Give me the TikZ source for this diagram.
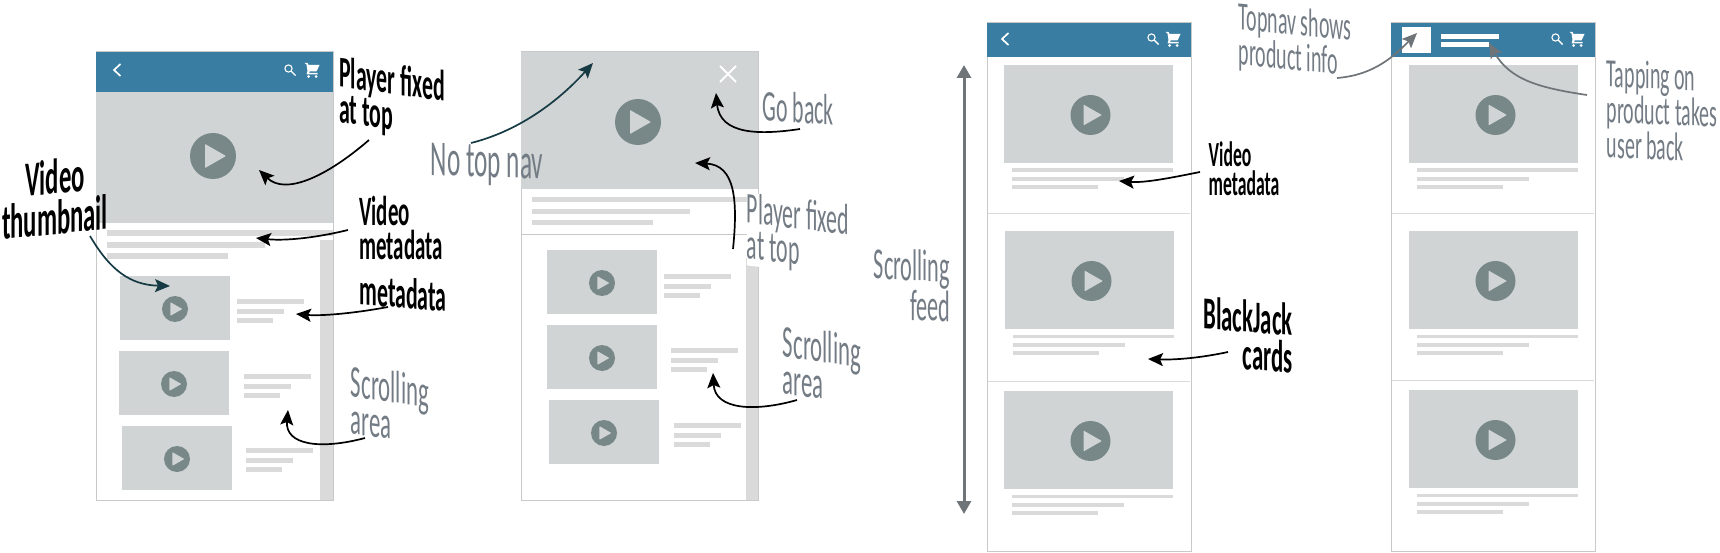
\documentclass[tikz,border=0pt]{standalone}
\usepackage{fontspec}
\usetikzlibrary{arrows.meta}
\newfontfamily\handfont{Carlito}
\definecolor{navblue}{HTML}{397DA3}
\definecolor{thumbgrey}{HTML}{D0D4D4}
\definecolor{linegrey}{HTML}{DADADA}
\definecolor{playgrey}{HTML}{788888}
\definecolor{edgegrey}{HTML}{C8CACA}
\definecolor{notegrey}{HTML}{737B84}
\definecolor{arrowgrey}{HTML}{6F7479}
\definecolor{darkteal}{HTML}{173B45}
\tikzset{
  hand/.style={transform shape, xscale=.5, inner sep=0pt, align=left,
    font=\handfont\fontsize{38}{31}\selectfont},
  inkhand/.style={hand, text=black, font=\handfont\bfseries\fontsize{38}{31}\selectfont},
  greyhand/.style={hand, text=notegrey},
  phone/.style={draw=edgegrey, line width=1pt, fill=white},
  note/.style={-{Stealth[length=15pt,width=13pt,inset=3pt]}, line width=1.7pt, black},
  tealnote/.style={note, darkteal},
  greynote/.style={note, arrowgrey},
}
% play button: x, y, radius
\newcommand{\playbtn}[3]{
  \fill[playgrey] (#1,#2) circle (#3);
  \fill[thumbgrey, rounded corners=.6pt, scale around={#3/23:(#1,#2)}]
    (#1-8,#2-12) -- (#1+13,#2) -- (#1-8,#2+12) -- cycle;
}
% small row: thumb x, y, text x, y
\newcommand{\minicard}[4]{
  \fill[thumbgrey] (#1,#2) rectangle ++(110,64);
  \playbtn{#1+55}{#2+33}{13}
  \fill[linegrey] (#3,#4) rectangle ++(67,4.5);
  \fill[linegrey] (#3,#4+10) rectangle ++(47,4.5);
  \fill[linegrey] (#3,#4+19) rectangle ++(36,4.5);
}
% big card: thumb x, y
\newcommand{\bigcard}[2]{
  \fill[thumbgrey] (#1,#2) rectangle ++(169,98);
  \playbtn{#1+86.5}{#2+50}{20}
  \fill[linegrey] (#1+8,#2+103.5) rectangle ++(161,3.8);
  \fill[linegrey] (#1+8,#2+112) rectangle ++(112,3.8);
  \fill[linegrey] (#1+8,#2+120) rectangle ++(86,3.8);
}
% search and cart: search x, cart x, y
\newcommand{\navicons}[3]{
  \draw[white, line width=1.1pt] (#1-1.5,#3-1.5) circle (3.6);
  \draw[white, line width=1.4pt] (#1+1,#3+1) -- (#1+5.5,#3+5.5);
  \fill[white] (#2-7.5,#3-7) -- (#2-4.5,#3-7) -- (#2-3.5,#3-5) -- (#2+7.5,#3-5)
    -- (#2+4.5,#3+1.5) -- (#2-2.5,#3+1.5) -- (#2-3,#3+3) -- (#2+5.5,#3+3)
    -- (#2+5.5,#3+4.5) -- (#2-5.5,#3+4.5) -- (#2-4.5,#3+1) -- (#2-5.5,#3-5.5) -- cycle;
  \fill[white] (#2-3.5,#3+6.5) circle (1.5) (#2+4,#3+6.5) circle (1.5);
}
\newcommand{\chevron}[2]{
  \draw[white, line width=1.7pt] (#1+3.5,#2-6) -- (#1-3,#2) -- (#1+3.5,#2+6);
}
\begin{document}
\begin{tikzpicture}[x=1pt, y=-1pt]
\useasboundingbox (0,0) rectangle (1720,553);

% first screen
\draw[phone] (96,52) rectangle (333,500);
\fill[navblue] (96,52) rectangle (333,92);
\fill[thumbgrey] (96,92) rectangle (333,223);
\chevron{117}{70}
\navicons{290}{312}{70}
\playbtn{213}{156}{23}
\fill[linegrey] (320,240) rectangle (333,500);
\fill[linegrey] (107,230.5) rectangle (333,236);
\fill[linegrey] (107,242.5) rectangle (265,248);
\fill[linegrey] (107,253.5) rectangle (228,259);
\minicard{120}{276}{237}{299}
\minicard{119}{351}{243.5}{374}
\minicard{122}{426}{246}{448}

% second screen
\draw[phone] (521,52) rectangle (758,500);
\fill[thumbgrey] (521,52) rectangle (758,189);
\playbtn{638}{122}{23}
\draw[white, line width=1.8pt] (720,66) -- (736,82) (736,66) -- (720,82);
\fill[linegrey] (746,258) rectangle (758,500);
\fill[linegrey] (532,197.5) rectangle (758,202.5);
\fill[linegrey] (532,209.5) rectangle (690,214.5);
\fill[linegrey] (532,220.5) rectangle (653,225.5);
\draw[edgegrey] (521,234) -- (758,234);
\minicard{547}{250}{664}{274}
\minicard{547}{325}{671}{348}
\minicard{549}{400}{674}{423}

% third screen
\draw[phone] (987,23) rectangle (1191,551);
\fill[navblue] (987,23) rectangle (1191,57);
\chevron{1005}{39}
\navicons{1153}{1173}{39}
\foreach \cardx/\cardy in {1004/65, 1005/231, 1004/391} {\bigcard{\cardx}{\cardy}}
\draw[linegrey] (988,213) -- (1190,213) (988,381) -- (1190,381);

% fourth screen
\draw[phone] (1391,23) rectangle (1595,551);
\fill[navblue] (1391,23) rectangle (1595,57);
\fill[white] (1402,27) rectangle (1431,53);
\fill[white] (1441,34) rectangle (1499,39);
\fill[white] (1441,42) rectangle (1489,47);
\navicons{1557}{1577}{39}
\foreach \cardx/\cardy in {1409/65, 1409/231, 1409/390} {\bigcard{\cardx}{\cardy}}
\draw[linegrey] (1392,213) -- (1594,213) (1392,380) -- (1594,380);

% labels
\node[yslant=-.14, inkhand, scale=1.15] (fixedA) at (392,100) {Player fixed\\at top};
\node[yslant=.1, inkhand, scale=1.3, align=center] (thumbA) at (55,197) {Video\\thumbnail};
\node[inkhand, scale=1.1] (metaA) at (401,228) {Video\\metadata};
\node[yslant=-.08, inkhand, scale=1.15] (rowmetaA) at (403,293) {metadata};
\node[yslant=-.14, greyhand, scale=1.2] (scrollA) at (390,405) {Scrolling\\area};
\node[yslant=-.03, greyhand, scale=1.33] (nonav) at (487,165) {No top nav};
\node[yslant=-.06, greyhand, scale=1.15] (goback) at (798,108) {Go back};
\node[yslant=-.12, greyhand, scale=1.15, fill=white] (fixedB) at (798,235) {Player fixed\\at top};
\node[yslant=-.14, greyhand, scale=1.2] (scrollB) at (822,365) {Scrolling\\area};
\node[yslant=-.04, greyhand, scale=1.17, align=right] (feed) at (912,285) {Scrolling\\feed};
\node[inkhand, scale=.93] (metaC) at (1244,169) {Video\\metadata};
\node[yslant=-.08, inkhand, scale=1.2, align=right] (jack) at (1248,335) {BlackJack\\cards};
\node[yslant=-.1, greyhand, scale=1.05] (topnav) at (1295,42) {Topnav shows\\product info};
\node[yslant=-.04, greyhand, scale=1.05] (tapping) at (1662,111) {Tapping on\\product takes\\user back};

% arrow ends
\coordinate (fixedAs) at (369,140);  \coordinate (fixedAt) at (259,170);
\coordinate (thumbAs) at (90,236);   \coordinate (thumbAt) at (170,286);
\coordinate (metaAs) at (348,230);   \coordinate (metaAt) at (256,238);
\coordinate (rowmetaAs) at (388,307); \coordinate (rowmetaAt) at (296,314);
\coordinate (scrollAs) at (365,438); \coordinate (scrollAt) at (288,410);
\coordinate (nonavs) at (471,143);   \coordinate (nonavt) at (593,63);
\coordinate (gobacks) at (800,129);  \coordinate (gobackt) at (716,93);
\coordinate (fixedBs) at (733,249);  \coordinate (fixedBt) at (695,163);
\coordinate (scrollBs) at (797,400); \coordinate (scrollBt) at (713,373);
\coordinate (feedtop) at (964,65);   \coordinate (feedbot) at (964,514);
\coordinate (metaCs) at (1200,172);  \coordinate (metaCt) at (1119,181);
\coordinate (jacks) at (1228,352);   \coordinate (jackt) at (1148,359);
\coordinate (topnavs) at (1337,78);  \coordinate (topnavt) at (1417,33);
\coordinate (tappings) at (1587,95); \coordinate (tappingt) at (1489,43);

\draw[note] (fixedAs) .. controls (325,178) and (285,195) .. (fixedAt);
\draw[tealnote] (thumbAs) .. controls (110,270) and (130,285) .. (thumbAt);
\draw[note] (metaAs) .. controls (315,238) and (285,241) .. (metaAt);
\draw[note] (rowmetaAs) .. controls (350,314) and (320,316) .. (rowmetaAt);
\draw[note] (scrollAs) .. controls (320,450) and (285,445) .. (scrollAt);
\draw[tealnote] (nonavs) .. controls (515,132) and (555,105) .. (nonavt);
\draw[note] (gobacks) .. controls (760,135) and (720,135) .. (gobackt);
\draw[note] (fixedBs) .. controls (738,200) and (735,165) .. (fixedBt);
\draw[note] (scrollBs) .. controls (755,412) and (715,410) .. (scrollBt);
\draw[{Triangle[length=13pt,width=14pt]}-{Triangle[length=13pt,width=14pt]}, line width=3pt, arrowgrey] (feedtop) -- (feedbot);
\draw[note] (metaCs) .. controls (1170,178) and (1145,183) .. (metaCt);
\draw[note] (jacks) .. controls (1200,358) and (1175,360) .. (jackt);
\draw[greynote] (topnavs) .. controls (1375,75) and (1395,55) .. (topnavt);
\draw[greynote] (tappings) .. controls (1540,88) and (1510,80) .. (tappingt);
\end{tikzpicture}
\end{document}
